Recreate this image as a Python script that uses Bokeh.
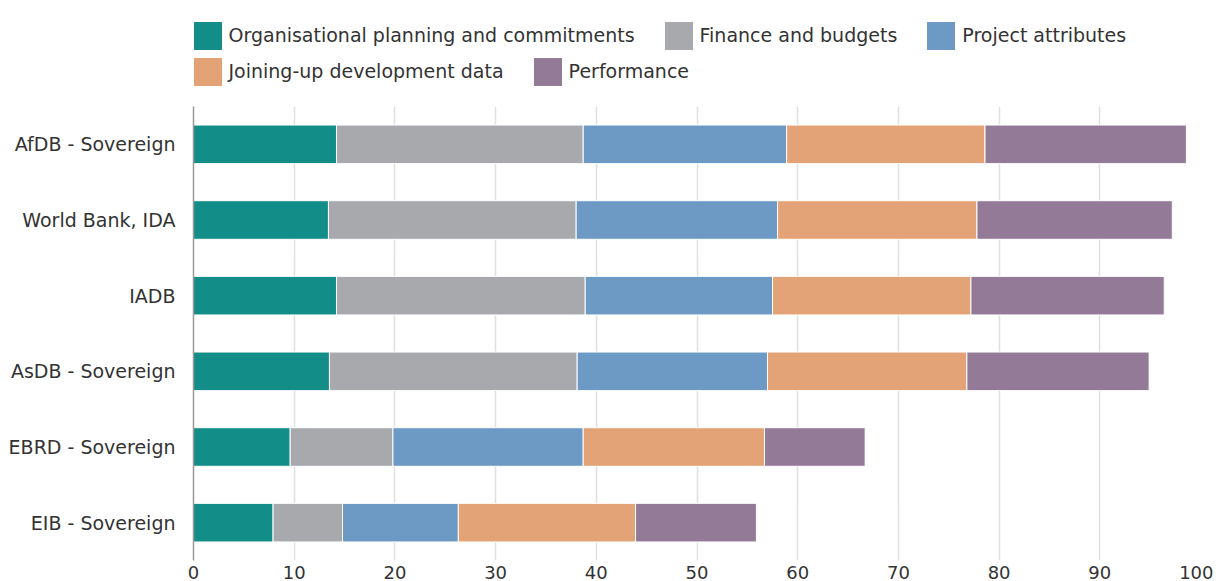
from bokeh.plotting import figure
from bokeh.models import FactorRange, Range1d, Legend, LegendItem, ColumnDataSource, FixedTicker
from bokeh.layouts import column
from bokeh.embed import file_html
from bokeh.resources import INLINE

categories = ["AfDB - Sovereign", "World Bank, IDA", "IADB", "AsDB - Sovereign", "EBRD - Sovereign", "EIB - Sovereign"]
series = ["Organisational planning and commitments", "Finance and budgets", "Project attributes",
          "Joining-up development data", "Performance"]
org = [14.2, 13.4, 14.2, 13.5, 9.6, 7.9]
fin = [24.5, 24.6, 24.7, 24.6, 10.2, 6.9]
proj = [20.2, 20.0, 18.6, 18.9, 18.9, 11.5]
join = [19.7, 19.8, 19.7, 19.8, 18.0, 17.6]
perf = [20.0, 19.4, 19.2, 18.1, 10.0, 12.0]
colors = ["#128d87", "#a8a9ac", "#6d9ac4", "#e4a277", "#937b98"]
x_ticks = [0, 10, 20, 30, 40, 50, 60, 70, 80, 90, 100]

FONT = "DejaVu Sans"
keys = ["org", "fin", "proj", "join", "perf"]
source = ColumnDataSource(dict(cat=categories, org=org, fin=fin, proj=proj, join=join, perf=perf))

# ---- main chart ----
p = figure(width=1213, height=475, output_backend="svg", toolbar_location=None,
           y_range=FactorRange(*reversed(categories)), x_range=Range1d(0, 100),
           min_border_left=193, min_border_top=0, min_border_right=13, min_border_bottom=0)
p.outline_line_color = None

renderers = p.hbar_stack(keys, y="cat", height=0.51, color=colors, source=source,
                         line_color="white", line_width=1)

p.xgrid.grid_line_color = "#e0e0e0"
p.xgrid.grid_line_width = 1.5
p.ygrid.grid_line_color = None

p.xaxis.ticker = FixedTicker(ticks=x_ticks)
p.xaxis.axis_line_color = None
p.xaxis.major_tick_line_color = None
p.xaxis.minor_tick_line_color = None
p.xaxis.major_tick_out = 0
p.xaxis.major_tick_in = 0
p.xaxis.major_label_standoff = 5
p.xaxis.major_label_text_font = FONT
p.xaxis.major_label_text_font_size = "18px"
p.xaxis.major_label_text_color = "#333333"

p.yaxis.axis_line_color = "#999999"
p.yaxis.axis_line_width = 1.5
p.yaxis.major_tick_line_color = None
p.yaxis.minor_tick_line_color = None
p.yaxis.major_tick_out = 0
p.yaxis.major_tick_in = 0
p.yaxis.major_label_standoff = 18
p.yaxis.major_label_text_font = FONT
p.yaxis.major_label_text_font_size = "19px"
p.yaxis.major_label_text_color = "#333333"

# ---- legend strip (zero-height proxies of the same series; only the legend shows) ----
leg = figure(width=1213, height=106, output_backend="svg", toolbar_location=None,
             x_axis_type=None, y_axis_type=None, x_range=Range1d(0, 100),
             y_range=FactorRange(*reversed(categories)), min_border=0)
leg.outline_line_color = None
leg.grid.grid_line_color = None
dummies = leg.hbar_stack(keys, y="cat", height=0, fill_color=colors, line_color=None, source=source)

def make_legend(idx, loc):
    items = [LegendItem(label=series[i], renderers=[dummies[i]]) for i in idx]
    return Legend(items=items, location=loc, orientation="horizontal", glyph_width=35, glyph_height=35,
                  label_standoff=4, spacing=26, padding=0, margin=0, label_text_font=FONT,
                  label_text_font_size="19px", label_text_color="#333333",
                  background_fill_alpha=0, border_line_alpha=0, label_height=35)

leg.add_layout(make_legend([0, 1, 2], (-3.5, 53.5)), "center")
leg.add_layout(make_legend([3, 4], (-3.5, 17.5)), "center")

layout = column(leg, p, spacing=0)
open("out.html", "w").write(file_html(layout, INLINE))
